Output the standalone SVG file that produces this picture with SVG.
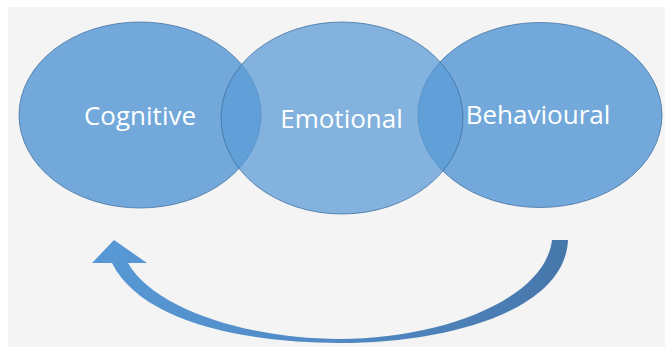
<svg xmlns="http://www.w3.org/2000/svg" width="665" height="356" viewBox="0 0 665 356">
  <defs>
    <style>
      .bubble { stroke: #3f6f9f; stroke-width: 1; stroke-opacity: 0.75; }
      .side { fill: #5b9bd5; fill-opacity: 0.85; }
      .mid { fill: #5b9bd5; fill-opacity: 0.74; }
      .label { font-family: "Open Sans", "Noto Sans", "Liberation Sans", sans-serif; font-size: 26px; fill: #ffffff; text-anchor: middle; }
    </style>
    <linearGradient id="arrowGrad" gradientUnits="userSpaceOnUse" x1="90" y1="0" x2="570" y2="0">
      <stop offset="0" stop-color="#5799d6"/>
      <stop offset="0.5" stop-color="#5189c4"/>
      <stop offset="1" stop-color="#4677ab"/>
    </linearGradient>
  </defs>
  <rect x="0" y="0" width="665" height="356" fill="#ffffff"/>
  <rect x="8" y="7" width="657" height="340" fill="#f4f4f4"/>

  <g id="cognitive">
    <ellipse class="bubble side" cx="140" cy="115" rx="121" ry="93"/>
    <text class="label" x="140" y="125">Cognitive</text>
  </g>
  <g id="behavioural">
    <ellipse class="bubble side" cx="540" cy="115" rx="122" ry="92.5"/>
    <text class="label" x="538" y="124">Behavioural</text>
  </g>
  <g id="emotional">
    <ellipse class="bubble mid" cx="342" cy="118" rx="121" ry="96"/>
    <text class="label" x="341.5" y="128">Emotional</text>
  </g>

  <g id="connectors">
    <path d="M568,240 C565,310 450,343 340,343 C240,343 140,320 112,263 L92,263 L114,240 L147,263 L128,263 C155,310 250,339 340,339 C440,339 545,300 552,240 Z" fill="url(#arrowGrad)"/>
  </g>
</svg>
